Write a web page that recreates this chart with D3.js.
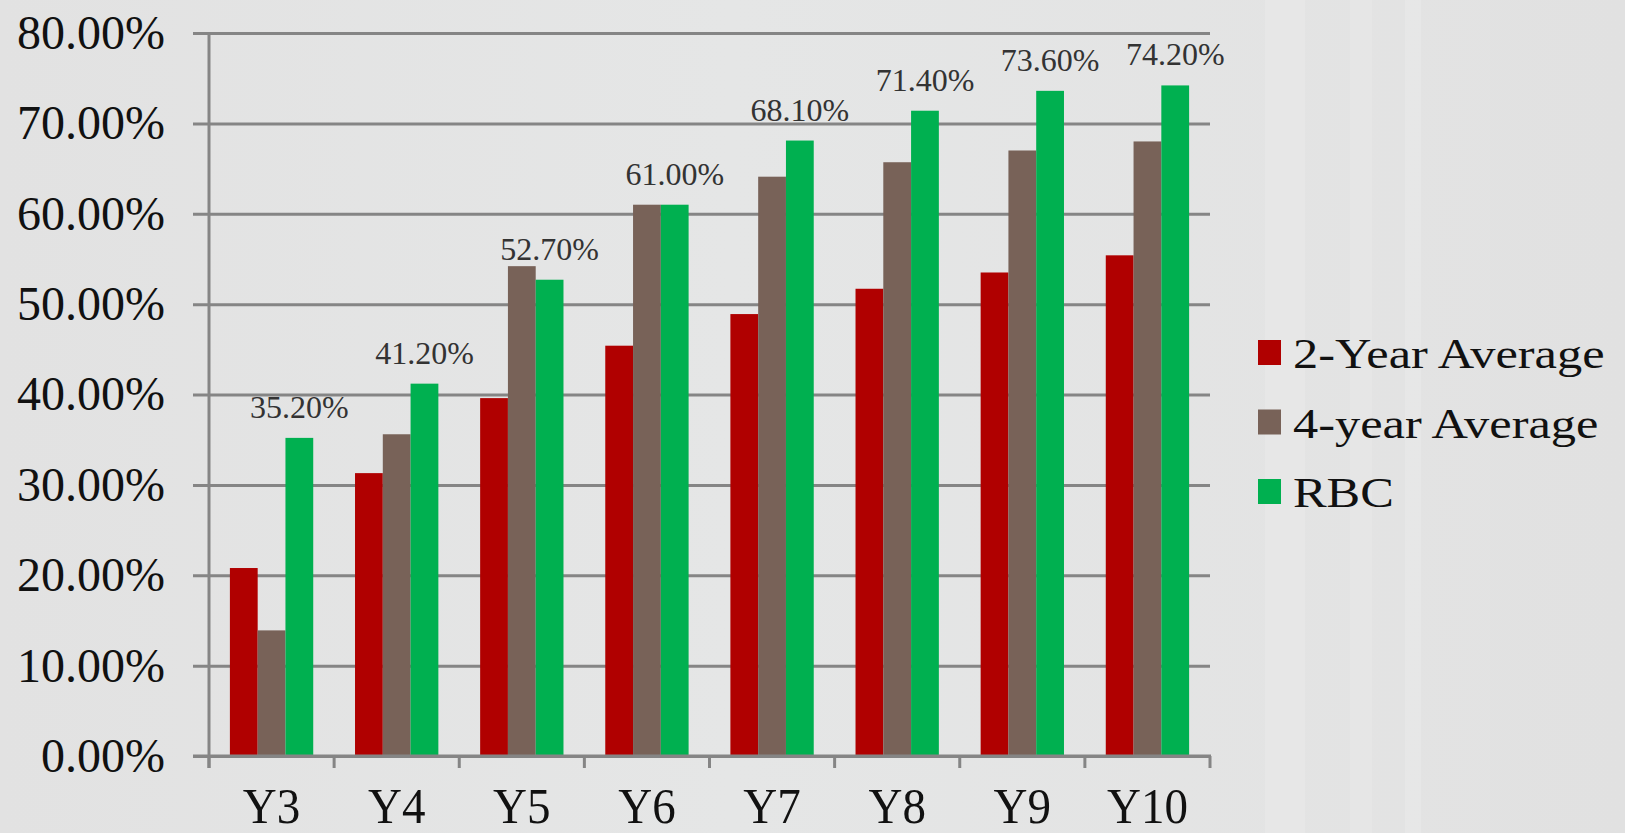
<!DOCTYPE html>
<html>
<head>
<meta charset="utf-8">
<script src="https://cdn.jsdelivr.net/npm/d3@7"></script>
<style>
  html, body { margin: 0; padding: 0; background: #e4e4e4; }
  svg { display: block; }
  text { font-family: "Liberation Serif", "Times New Roman", serif; }
</style>
</head>
<body>
<svg id="chart" width="1625" height="833"></svg>
<script>
'use strict';

// Datos
var years = ['Y3', 'Y4', 'Y5', 'Y6', 'Y7', 'Y8', 'Y9', 'Y10'];
var seriesNames = ['2-Year Average', '4-year Average', 'RBC'];
var twoYear  = [20.8, 31.3, 39.6, 45.4, 48.9, 51.7, 53.5, 55.4];
var fourYear = [13.9, 35.6, 54.2, 61.0, 64.1, 65.7, 67.0, 68.0];
var rbc      = [35.2, 41.2, 52.7, 61.0, 68.1, 71.4, 73.6, 74.2];
var yTicks   = [0, 10, 20, 30, 40, 50, 60, 70, 80];
var colores  = ['#b00000', '#786258', '#00b050'];

var series = [twoYear, fourYear, rbc];

var svg = d3.select('#chart');
var W = 1625, H = 833;

// Fondo: gris claro con franjas muy suaves (edificio difuminado)
var defs = svg.append('defs');
var grad = defs.append('linearGradient').attr('id', 'fondo')
  .attr('x1', 0).attr('y1', 0).attr('x2', 1).attr('y2', 0);
grad.append('stop').attr('offset', '0%').attr('stop-color', '#e2e2e2');
grad.append('stop').attr('offset', '45%').attr('stop-color', '#e5e6e6');
grad.append('stop').attr('offset', '100%').attr('stop-color', '#e2e2e2');
svg.append('rect').attr('width', W).attr('height', H).attr('fill', 'url(#fondo)');
var franjas = [[1265, 40, '#ebebeb'], [1350, 22, '#e9e9e9'], [1405, 16, '#eaeaea'], [1490, 135, '#dfdfdf']];
franjas.forEach(function(f) {
  svg.append('rect').attr('x', f[0]).attr('y', 0).attr('width', f[1]).attr('height', H)
    .attr('fill', f[2]).attr('opacity', 0.45);
});

var margen = { left: 209, top: 33, right: W - 1210, bottom: H - 756 };
var w = W - margen.left - margen.right;
var h = H - margen.top - margen.bottom;

var g = svg.append('g').attr('transform', 'translate(' + margen.left + ',' + margen.top + ')');

var x = d3.scaleBand().domain(years).range([0, w]).paddingInner(0.334).paddingOuter(0.167);
var x1 = d3.scaleBand().domain(d3.range(series.length)).range([0, x.bandwidth()]).padding(0);
var y = d3.scaleLinear().domain([0, 80]).range([h, 0]);

var gris = '#858585';

// Eje Y con rejilla
var ejeY = g.append('g')
  .call(d3.axisLeft(y).tickValues(yTicks).tickSize(0)
    .tickFormat(function(d) { return d3.format('.2f')(d) + '%'; }));
ejeY.select('.domain').remove();
ejeY.selectAll('.tick line').attr('x1', -16).attr('x2', w)
  .attr('stroke', gris).attr('stroke-width', 3);
ejeY.selectAll('.tick text').attr('x', -44).attr('dy', '0.32em')
  .attr('fill', '#111').style('font-size', '48px');

// Barras
var grupos = g.selectAll('.grupo').data(years).enter().append('g')
  .attr('class', 'grupo')
  .attr('transform', function(d) { return 'translate(' + x(d) + ',0)'; });

grupos.selectAll('rect').data(function(d, i) {
  return series.map(function(s, j) { return { serie: j, valor: s[i] }; });
}).enter().append('rect')
  .attr('x', function(d) { return x1(d.serie); })
  .attr('y', function(d) { return y(d.valor); })
  .attr('width', x1.bandwidth())
  .attr('height', function(d) { return h - y(d.valor); })
  .attr('fill', function(d) { return colores[d.serie]; });

// Etiquetas de RBC
g.selectAll('.etiqueta').data(years).enter().append('text')
  .attr('class', 'etiqueta')
  .attr('x', function(d) { return x(d) + x1(2) + x1.bandwidth() / 2; })
  .attr('y', function(d, i) { return y(rbc[i]) - 20; })
  .attr('text-anchor', 'middle')
  .attr('fill', '#333')
  .style('font-size', '32px')
  .text(function(d, i) { return d3.format('.2f')(rbc[i]) + '%'; });

// Eje vertical
g.append('line').attr('x1', 0).attr('x2', 0).attr('y1', 0).attr('y2', h + 12)
  .attr('stroke', gris).attr('stroke-width', 3);

// Eje X
var ejeX = g.append('g').attr('transform', 'translate(0,' + h + ')');
ejeX.append('line').attr('x1', -16).attr('x2', w + 1).attr('stroke', gris).attr('stroke-width', 3);
var paso = x.step();
ejeX.selectAll('.marca').data(d3.range(years.length + 1)).enter().append('line')
  .attr('class', 'marca')
  .attr('x1', function(d) { return d * paso; })
  .attr('x2', function(d) { return d * paso; })
  .attr('y1', 0).attr('y2', 12)
  .attr('stroke', gris).attr('stroke-width', 3);
ejeX.selectAll('.cat').data(years).enter().append('text')
  .attr('class', 'cat')
  .attr('transform', function(d) {
    return 'translate(' + (x(d) + x.bandwidth() / 2) + ',67) scale(0.94,1)';
  })
  .attr('text-anchor', 'middle')
  .attr('fill', '#111')
  .style('font-size', '50px')
  .text(function(d) { return d; });

// Leyenda (el original está estirado en horizontal)
var leyenda = svg.append('g').attr('transform', 'translate(1258,0)');
seriesNames.forEach(function(nombre, i) {
  var base = 368 + i * 69.5;
  leyenda.append('rect').attr('x', 0).attr('y', base - 28).attr('width', 23).attr('height', 25)
    .attr('fill', colores[i]);
  leyenda.append('text')
    .attr('transform', 'translate(35,' + base + ') scale(1.2,1)')
    .attr('fill', '#111').style('font-size', '42px').text(nombre);
});
</script>
</body>
</html>
